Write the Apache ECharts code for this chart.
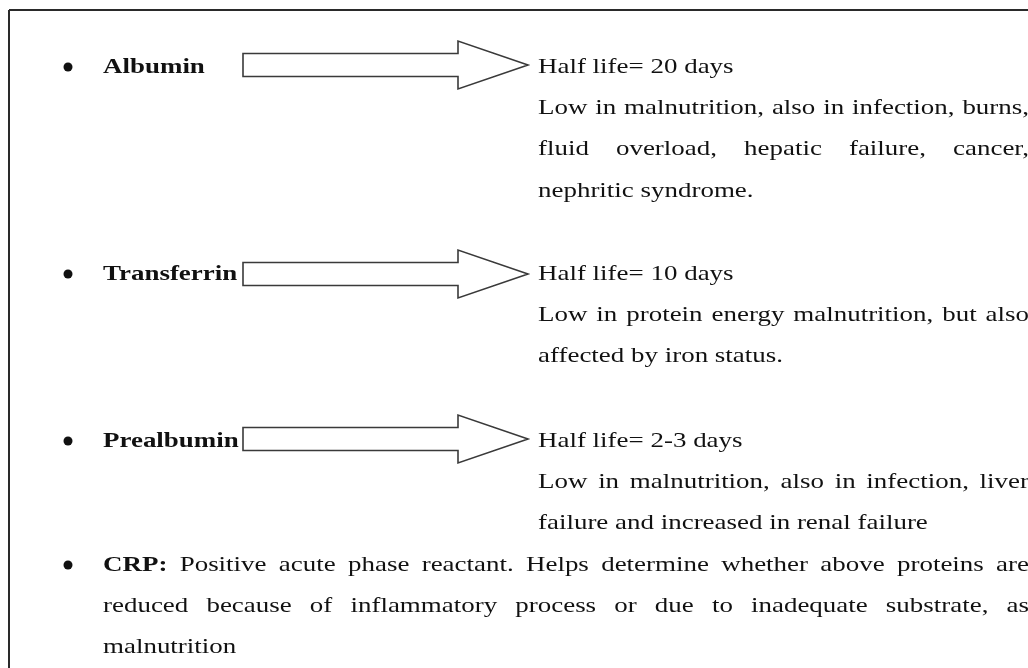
<!DOCTYPE html>
<html>
<head>
<meta charset="utf-8">
<script src="https://cdn.jsdelivr.net/npm/echarts@6/dist/echarts.min.js"></script>
<style>
  html, body { margin: 0; padding: 0; background: #fff; }
  #main { width: 1028px; height: 668px; }
</style>
</head>
<body>
<div id="main"></div>
<script>
// text content of the figure
const labels = ['Albumin', 'Transferrin', 'Prealbumin'];
const halfLives = ['Half life= 20 days', 'Half life= 10 days', 'Half life= 2-3 days'];
const notes = [
  ['Low in malnutrition, also in infection, burns,',
   'fluid overload, hepatic failure, cancer,',
   'nephritic syndrome.'],
  ['Low in protein energy malnutrition, but also',
   'affected by iron status.'],
  ['Low in malnutrition, also in infection, liver',
   'failure and increased in renal failure']
];
const crpLead = 'CRP:';
const crpLines = [
  'Positive acute phase reactant. Helps determine whether above proteins are',
  'reduced because of inflammatory process or due to inadequate substrate, as',
  'malnutrition'
];

// layout
const FS = 22, SX = 1.225, LH = 41.3;
const FAMILY = '"Liberation Serif", "Times New Roman", serif';
const rowY = [65, 272, 439];
const crpY = 563;
const textDY = 2;
const bulletX = 68, labelX = 103, rightX = 538, edgeX = 1029;
const ink = '#111';

const ctx = document.createElement('canvas').getContext('2d');
function font(bold) { return (bold ? 'bold ' : '') + FS + 'px ' + FAMILY; }
function measure(t, bold) { ctx.font = font(bold); return ctx.measureText(t).width * SX; }

const els = [];

function word(t, x, y, bold) {
  els.push({
    type: 'text', x: x, y: y + textDY, scaleX: SX,
    style: { text: t, font: font(bold), fill: ink, align: 'left', verticalAlign: 'middle' }
  });
}

// tokens: [{t, bold}], justified to edgeX when justify is true
function line(tokens, x0, y, justify) {
  const widths = tokens.map(k => measure(k.t, k.bold));
  const total = widths.reduce((a, b) => a + b, 0);
  let gap = measure(' ', false);
  if (justify && tokens.length > 1) gap = (edgeX - x0 - total) / (tokens.length - 1);
  let x = x0;
  tokens.forEach((k, i) => { word(k.t, x, y, k.bold); x += widths[i] + gap; });
}
function toks(s) { return s.split(' ').map(t => ({ t: t, bold: false })); }

function bullet(y) {
  els.push({ type: 'circle', shape: { cx: bulletX, cy: y + 2, r: 4.5 }, style: { fill: ink } });
}

function arrow(y) {
  const x0 = 243, xb = 458, xt = 528, hb = 11.5, hh = 24;
  els.push({
    type: 'polygon',
    shape: { points: [[x0, y - hb], [xb, y - hb], [xb, y - hh], [xt, y], [xb, y + hh], [xb, y + hb], [x0, y + hb]] },
    style: { fill: '#fff', stroke: '#3a3a3a', lineWidth: 1.6 }
  });
}

// frame (cropped at right and bottom)
els.push({ type: 'line', shape: { x1: 9, y1: 10, x2: 1028, y2: 10 }, style: { stroke: '#2a2a2a', lineWidth: 2 } });
els.push({ type: 'line', shape: { x1: 9, y1: 10, x2: 9, y2: 668 }, style: { stroke: '#2a2a2a', lineWidth: 2 } });

labels.forEach((lab, i) => {
  const y = rowY[i];
  bullet(y);
  word(lab, labelX, y, true);
  arrow(y + (i === 1 ? 2 : 0));
  line(toks(halfLives[i]), rightX, y, false);
  notes[i].forEach((s, j) => {
    line(toks(s), rightX, y + LH * (j + 1), j < notes[i].length - 1);
  });
});

bullet(crpY);
crpLines.forEach((s, j) => {
  const t = toks(s);
  if (j === 0) t.unshift({ t: crpLead, bold: true });
  line(t, labelX, crpY + LH * j, j < crpLines.length - 1);
});

const chart = echarts.init(document.getElementById('main'));
chart.setOption({
  animation: false,
  backgroundColor: '#fff',
  graphic: { elements: els }
});
</script>
</body>
</html>
